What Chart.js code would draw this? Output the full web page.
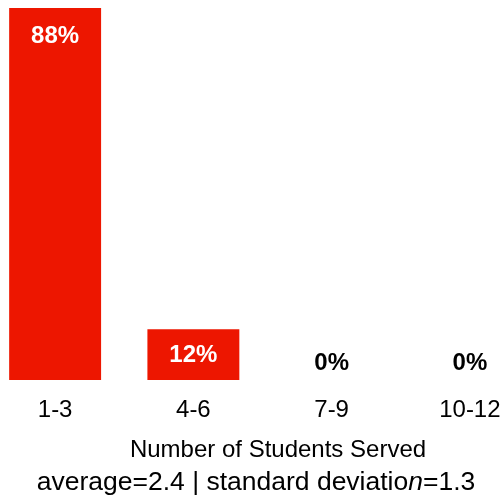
<!DOCTYPE html>
<html>
<head>
<meta charset="utf-8">
<script src="https://cdn.jsdelivr.net/npm/chart.js@4/dist/chart.umd.min.js"></script>
<style>
    html, body { margin: 0; padding: 0; background: #fff; }
    #wrap { position: relative; width: 504px; height: 504px; overflow: hidden; }
    #studentsChart { position: absolute; left: -14px; top: 0; }
</style>
</head>
<body>
<div id="wrap"><canvas id="studentsChart" width="553" height="504"></canvas></div>
<script>
let groups = ['1-3', '4-6', '7-9', '10-12'];
let shares = [88, 12, 0, 0];
let axisTitle = 'Number of Students Served';
let statsParts = [
    { text: 'average=2.4 | standard deviatio', italic: false },
    { text: 'n', italic: true },
    { text: '=1.3', italic: false }
];

const FONT = '"Liberation Sans", Arial, sans-serif';
const SHIFT = 14; // canvas sits 14px left of the page edge

// percentage labels: white inside the bar, black above the baseline when empty
const barLabels = {
    id: 'barLabels',
    afterDatasetsDraw(chart) {
        let ctx = chart.ctx;
        let meta = chart.getDatasetMeta(0);
        ctx.save();
        ctx.font = 'bold 24px ' + FONT;
        ctx.textAlign = 'center';
        ctx.textBaseline = 'middle';
        meta.data.forEach((bar, i) => {
            let value = shares[i];
            let y;
            if (value > 0) {
                ctx.fillStyle = '#fff';
                y = Math.min(bar.y + 28, (bar.y + bar.base) / 2 + 1);
            } else {
                ctx.fillStyle = '#000';
                y = bar.base - 17;
            }
            ctx.fillText(value + '%', bar.x, y);
        });
        ctx.restore();
    }
};

// axis title and summary line (with the italic n) under the category labels
const footer = {
    id: 'footer',
    afterDraw(chart) {
        let ctx = chart.ctx;
        ctx.save();
        ctx.fillStyle = '#000';
        ctx.textBaseline = 'alphabetic';

        ctx.textAlign = 'center';
        ctx.font = '24px ' + FONT;
        ctx.fillText(axisTitle, 278 + SHIFT, 457);

        ctx.textAlign = 'left';
        let fonts = statsParts.map(p => (p.italic ? 'italic ' : '') + '26.5px ' + FONT);
        let total = 0;
        statsParts.forEach((p, i) => {
            ctx.font = fonts[i];
            total += ctx.measureText(p.text).width;
        });
        let x = 256 + SHIFT - total / 2;
        statsParts.forEach((p, i) => {
            ctx.font = fonts[i];
            ctx.fillText(p.text, x, 490);
            x += ctx.measureText(p.text).width;
        });
        ctx.restore();
    }
};

document.addEventListener('DOMContentLoaded', function () {
    let ctx = document.getElementById('studentsChart');
    new Chart(ctx, {
        type: 'bar',
        data: {
            labels: groups,
            datasets: [{
                data: shares,
                backgroundColor: '#ED1600',
                borderWidth: 0,
                barPercentage: 0.665,
                categoryPercentage: 1
            }]
        },
        options: {
            responsive: false,
            animation: false,
            layout: {
                padding: { left: 0, right: 0, top: 8, bottom: 0 }
            },
            plugins: {
                legend: { display: false },
                tooltip: { enabled: false }
            },
            scales: {
                x: {
                    grid: { display: false, drawTicks: false },
                    border: { display: false },
                    ticks: {
                        color: '#000',
                        font: { family: FONT, size: 24 },
                        padding: 16,
                        maxRotation: 0,
                        autoSkip: false
                    },
                    afterFit(scale) {
                        scale.height = 124;
                    }
                },
                y: {
                    display: false,
                    min: 0,
                    max: Math.max(...shares)
                }
            }
        },
        plugins: [barLabels, footer]
    });
});
</script>
</body>
</html>
